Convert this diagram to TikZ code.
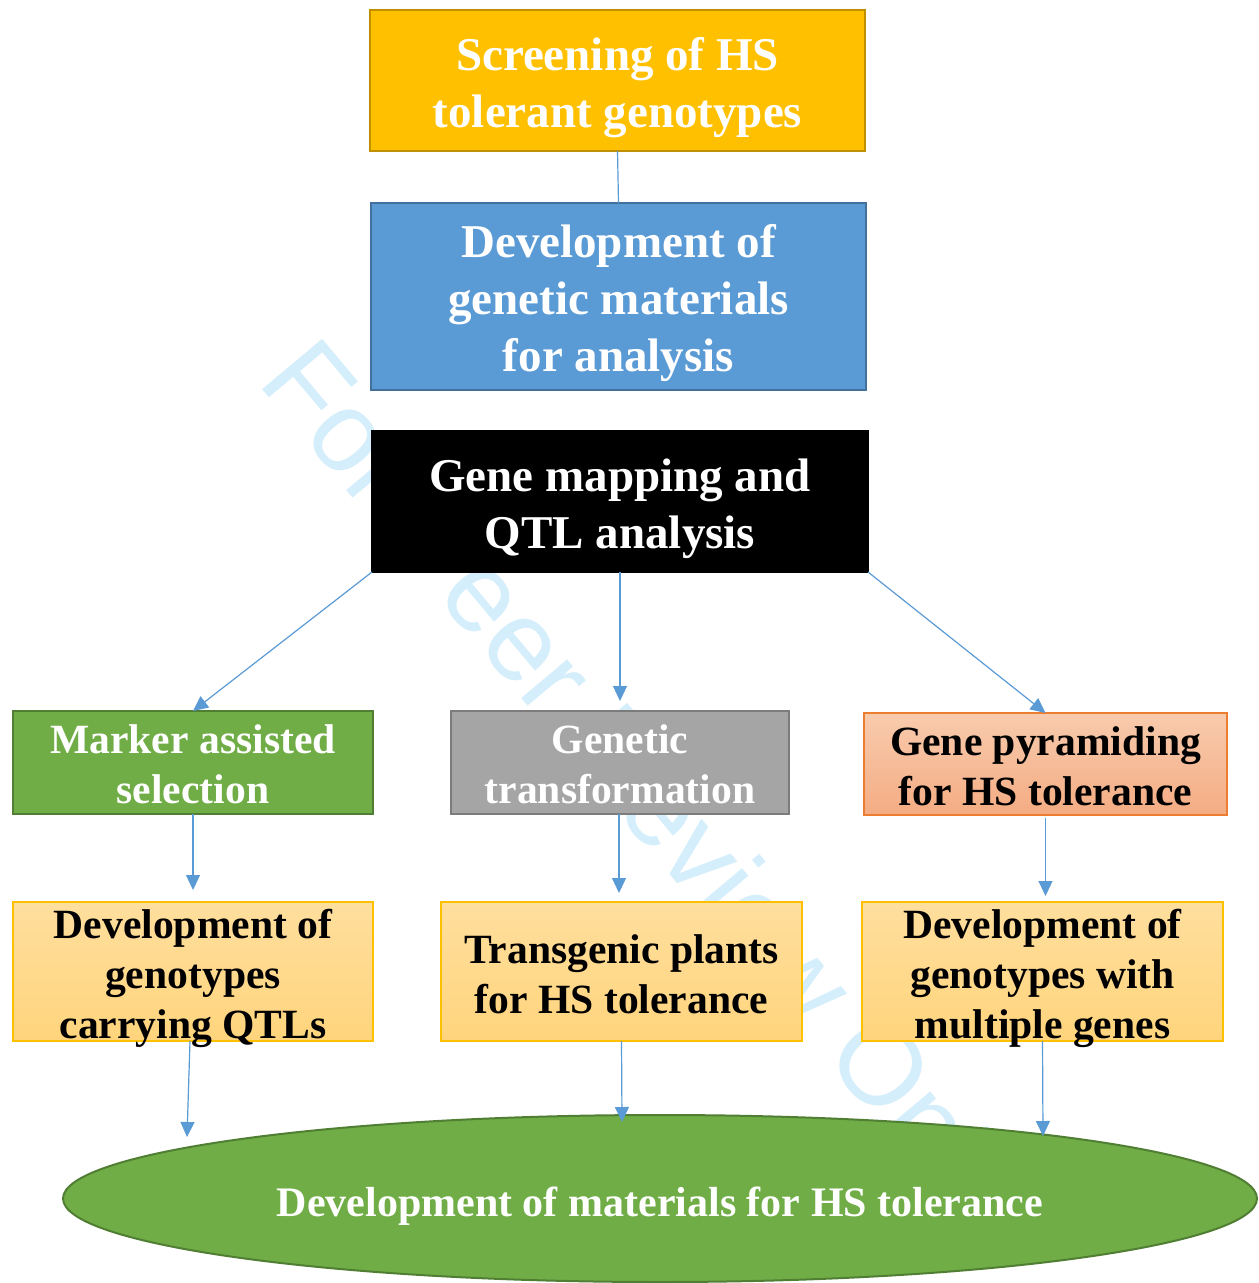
\documentclass[tikz,border=0pt]{standalone}
\usepackage{fontspec}
\setmainfont{Liberation Serif}
\newfontfamily\wmfont{Liberation Sans}
\usetikzlibrary{arrows.meta,shapes.geometric,calc}
\definecolor{cGold}{HTML}{FFC000}
\definecolor{cGoldLine}{HTML}{BF9000}
\definecolor{cBlue}{HTML}{5B9BD5}
\definecolor{cBlueLine}{HTML}{41719C}
\definecolor{cGreen}{HTML}{70AD47}
\definecolor{cGreenLine}{HTML}{507E32}
\definecolor{cGrey}{HTML}{A5A5A5}
\definecolor{cGreyLine}{HTML}{7C7C7C}
\definecolor{cPeachTop}{HTML}{F8CBAD}
\definecolor{cPeachBot}{HTML}{F4AC83}
\definecolor{cOrangeLine}{HTML}{ED7D31}
\definecolor{cYelTop}{HTML}{FFDF9E}
\definecolor{cYelBot}{HTML}{FFD47C}
\definecolor{cArrow}{HTML}{5B9BD5}
\definecolor{cWater}{RGB}{213,238,251}
\tikzset{
  box/.style={draw, line width=1pt, inner sep=0pt, outer sep=0pt},
  lbl/.style={align=center, inner sep=0pt, outer sep=0pt},
  bigtext/.style={lbl, font=\fontsize{23.5}{28.5}\selectfont\bfseries},
  midtext/.style={lbl, font=\fontsize{20.8}{25}\selectfont\bfseries},
  conn/.style={draw=cArrow, line width=0.6pt},
  arr/.style={conn, -{Triangle[width=7pt,length=7.5pt]}, fill=cArrow},
}
\begin{document}
\begin{tikzpicture}[x=0.5pt,y=-0.5pt]
\useasboundingbox (0,0) rectangle (1258,1283);
% watermark
\node[anchor=base west, rotate=-50, text=cWater, inner sep=0pt,
      font=\wmfont\fontsize{57}{57}\selectfont] (wm) at (256,382) {For Peer Review Only};
% nodes
\node[box, fill=cGold, draw=cGoldLine,
      minimum width=247.5pt, minimum height=70.5pt,
      label={[bigtext, text=white, yshift=-3.5pt, name=scrT]center:{Screening of HS\\tolerant genotypes}}]
      (scr) at (617.5,80.5) {};
\node[box, fill=cBlue, draw=cBlueLine,
      minimum width=247.5pt, minimum height=93.5pt,
      label={[bigtext, text=white, yshift=-3.5pt, name=devT]center:{Development of\\genetic materials\\for analysis}}]
      (dev) at (618.5,296.5) {};
\node[box, fill=black, draw=black,
      minimum width=248pt, minimum height=70.5pt,
      label={[bigtext, text=white, yshift=-3.5pt, name=mapT]center:{Gene mapping and\\QTL analysis}}]
      (map) at (620,501.5) {};
\node[box, fill=cGreen, draw=cGreenLine,
      minimum width=180pt, minimum height=51.5pt,
      label={[midtext, text=white, yshift=-1pt, name=masT]center:{Marker assisted\\selection}}]
      (mas) at (193,762.5) {};
\node[box, fill=cGrey, draw=cGreyLine,
      minimum width=169pt, minimum height=51.5pt,
      label={[midtext, text=white, yshift=-1pt, name=gtT]center:{Genetic\\transformation}}]
      (gt) at (620,762.5) {};
\node[box, top color=cPeachTop, bottom color=cPeachBot, draw=cOrangeLine, line width=0.6pt,
      minimum width=181.5pt, minimum height=51pt,
      label={[midtext, text=black, yshift=-1pt, name=gpT]center:{Gene pyramiding\\for HS tolerance}}]
      (gp) at (1045.5,764) {};
\node[box, top color=cYelTop, bottom color=cYelBot, draw=cGold, line width=0.6pt,
      minimum width=180pt, minimum height=69.5pt,
      label={[midtext, text=black, yshift=-3.5pt, name=qtlT]center:{Development of\\genotypes\\carrying QTLs}}]
      (qtl) at (193,971.5) {};
\node[box, top color=cYelTop, bottom color=cYelBot, draw=cGold, line width=0.6pt,
      minimum width=180.5pt, minimum height=69.5pt,
      label={[midtext, text=black, yshift=-1.5pt, name=tgT]center:{Transgenic plants\\for HS tolerance}}]
      (tg) at (621.5,971.5) {};
\node[box, top color=cYelTop, bottom color=cYelBot, draw=cGold, line width=0.6pt,
      minimum width=180.5pt, minimum height=69.5pt,
      label={[midtext, text=black, yshift=-3.5pt, name=mgT]center:{Development of\\genotypes with\\multiple genes}}]
      (mg) at (1042.5,971.5) {};
\node[ellipse, draw=cGreenLine, line width=1pt, fill=cGreen,
      inner sep=0pt, minimum width=597pt, minimum height=83.5pt,
      label={[lbl, text=white, yshift=-4pt, name=ellT, font=\fontsize{21}{25}\selectfont\bfseries]center:{Development of materials for HS tolerance}}]
      (ell) at (660,1198.5) {};
% free ends above the ellipse
\coordinate (e1) at (187,1137);
\coordinate (e2) at (622,1122);
\coordinate (e3) at (1043,1136);
% connectors
\draw[conn] (scr.south) -- (dev.north);
\draw[arr] (map.south west) -- (mas.north);
\draw[arr, shorten >=5pt] (map.south) -- (gt.north);
\draw[arr] (map.south east) -- (gp.north);
\draw[arr, shorten >=6pt] (mas.south) -- (qtl.north);
\draw[arr, shorten >=4.5pt] ([xshift=-0.5pt]gt.south) -- ([xshift=-0.5pt]gt.south |- tg.north);
\draw[arr, shorten <=1.5pt, shorten >=3pt] (gp.south) -- (gp.south |- mg.north);
\draw[arr] ([xshift=-1.5pt]qtl.south) -- (e1);
\draw[arr] (tg.south) -- (e2);
\draw[arr] (mg.south) -- (e3);
\end{tikzpicture}
\end{document}
